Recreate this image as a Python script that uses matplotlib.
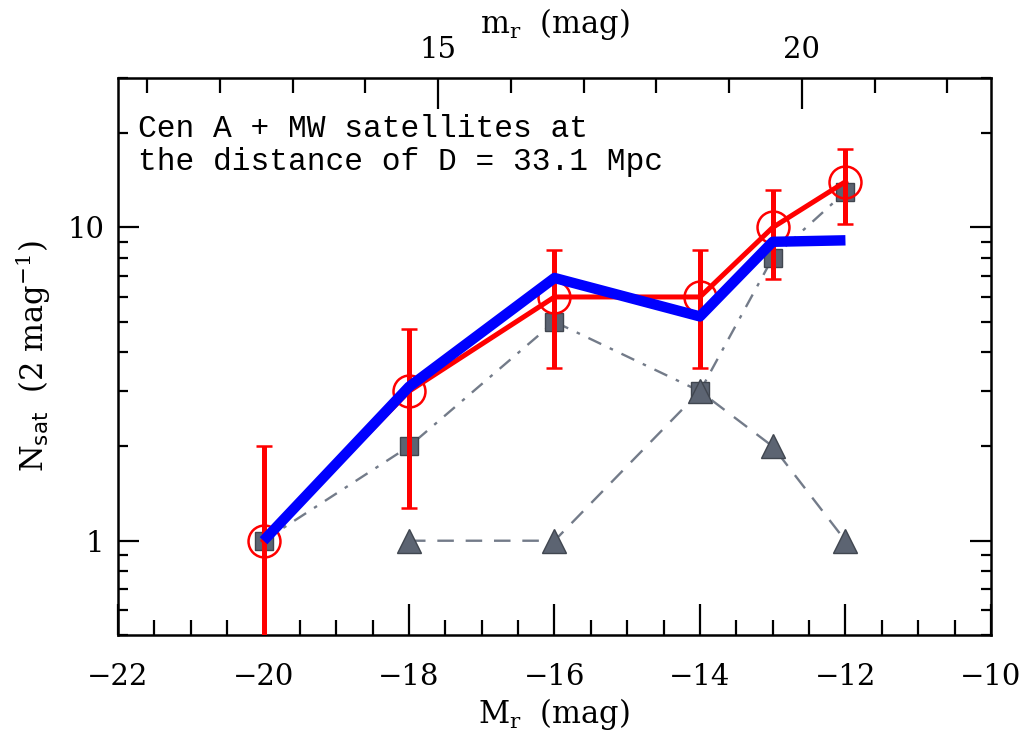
import matplotlib
matplotlib.use('Agg')
from matplotlib import pyplot as plt
from matplotlib.ticker import FixedLocator, LogLocator, NullFormatter, MultipleLocator
import numpy as np

# absolute magnitude bins (2 mag wide)
mag = [-20, -18, -16, -14, -13, -12]
# combined Cen A + MW counts with Poisson errors
n_comb = [1, 3, 6, 6, 10, 14]
n_err = [1.0, 1.73, 2.45, 2.45, 3.16, 3.74]
# model / smoothed counts
n_model = [1.0, 3.1, 6.9, 5.2, 9.0, 9.1]
# individual hosts
mag_mw = [-20, -18, -16, -14, -13, -12]
n_mw = [1, 2, 5, 3, 8, 13]
mag_cena = [-18, -16, -14, -13, -12]
n_cena = [1, 1, 3, 2, 1]

dist_mod = 32.6  # 5 log10(D / 10 pc) for D = 33.1 Mpc

plt.rcParams['font.family'] = 'DejaVu Serif'
plt.rcParams['mathtext.fontset'] = 'dejavuserif'

fig = plt.figure(figsize=(10.29, 7.36), dpi=100)
ax = fig.add_axes([0.1147, 0.1372, 0.963 - 0.1147, 0.894 - 0.1372])

grey = '#5c6472'
line_grey = '#737b89'
ax.plot(mag_mw, n_mw, color=line_grey, lw=1.7, ls=(0, (6, 4, 1.5, 4)), zorder=1)
ax.plot(mag_cena, n_cena, color=line_grey, lw=1.7, ls=(0, (7, 5)), zorder=1)
ax.plot(mag_mw, n_mw, ls='none', marker='s', ms=13, mfc=grey, mec='#40464f',
        mew=1.0, zorder=2)
ax.plot(mag_cena, n_cena, ls='none', marker='^', ms=17, mfc=grey, mec='#40464f',
        mew=1.0, zorder=2)

lower = np.minimum(n_err, np.array(n_comb) - 0.3)
ax.errorbar(mag, n_comb, yerr=[lower, n_err], color='red', lw=3.6, capsize=6,
            capthick=4, ls='-', marker='o', ms=23, mfc='none', mec='red',
            mew=1.8, zorder=3)
ax.plot(mag, n_model, color='blue', lw=7.5, solid_capstyle='butt', zorder=4)

ax.set_xlim(-22, -10)
ax.set_yscale('log')
ax.set_ylim(0.5, 30)
ax.set_xticks(np.arange(-22, -9, 2))
ax.set_xticklabels(['\u221222', '\u221220', '\u221218', '\u221216', '\u221214',
                    '\u221212', '\u221210'])
ax.xaxis.set_minor_locator(MultipleLocator(0.5))
ax.yaxis.set_major_locator(FixedLocator([1, 10]))
ax.yaxis.set_major_formatter(plt.FixedFormatter(['1', '10']))
ax.yaxis.set_minor_locator(LogLocator(base=10, subs=np.arange(2, 10)))
ax.yaxis.set_minor_formatter(NullFormatter())

ax.tick_params(which='both', direction='in', top=False, right=True,
               labelsize=21, width=1.6)
ax.tick_params(axis='x', which='major', length=22, pad=20)
ax.tick_params(axis='x', which='minor', length=11)
ax.tick_params(axis='y', which='major', length=15, pad=10)
ax.tick_params(axis='y', which='minor', length=7)
for side in ax.spines.values():
    side.set_linewidth(1.8)

sec = ax.secondary_xaxis('top', functions=(lambda x: x + dist_mod,
                                           lambda x: x - dist_mod))
sec.xaxis.set_major_locator(FixedLocator([15, 20]))
sec.xaxis.set_minor_locator(FixedLocator(np.arange(11, 23)))
sec.tick_params(which='both', direction='in', labelsize=21, width=1.6, pad=10)
sec.tick_params(which='major', length=22)
sec.tick_params(which='minor', length=11)
sec.set_xlabel(r'm$_{\rm r}$  (mag)', fontsize=22, labelpad=2)

ax.set_xlabel(r'M$_{\rm r}$  (mag)', fontsize=22, labelpad=4)
ax.set_ylabel(r'N$_{\mathsf{sat}}$  (2 mag$^{-1}$)', fontsize=22, labelpad=10)

ax.text(0.023, 0.935, 'Cen A + MW satellites at\nthe distance of D = 33.1 Mpc',
        transform=ax.transAxes, ha='left', va='top', fontsize=22.5,
        family='Liberation Mono', linespacing=1.1)

fig.savefig('out.png', dpi=100)
